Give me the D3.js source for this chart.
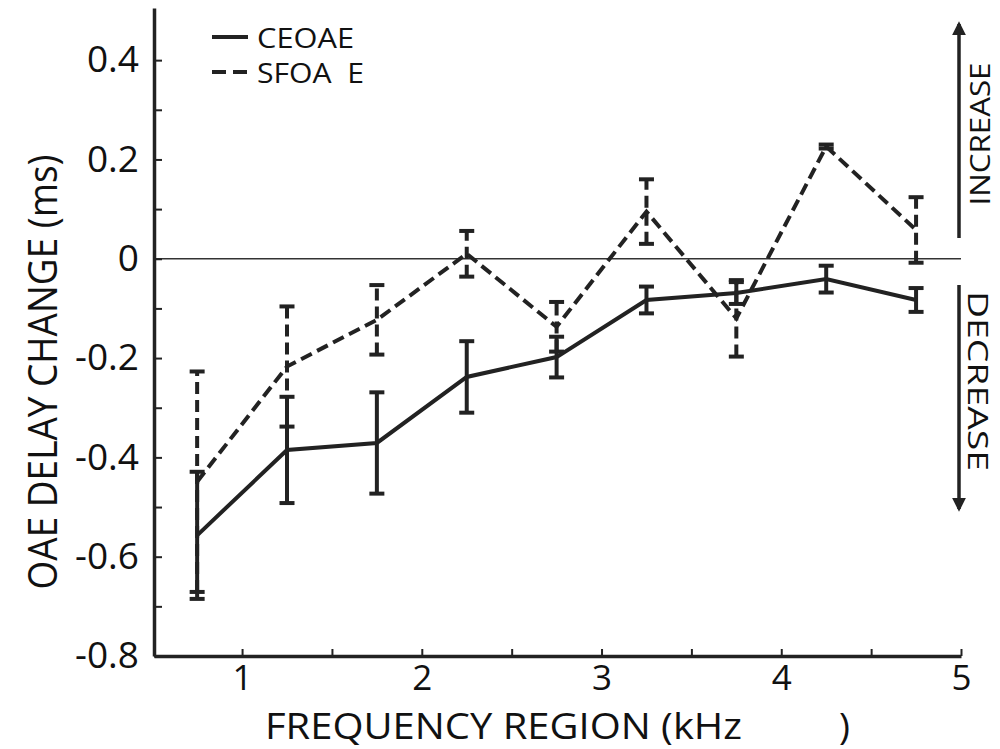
<!DOCTYPE html>
<html>
<head>
<meta charset="utf-8">
<script src="https://cdn.jsdelivr.net/npm/d3@7/dist/d3.min.js"></script>
<style>
  html, body { margin: 0; padding: 0; background: #fff; }
  svg { display: block; }
  text { font-family: "Open Sans", "Noto Sans", sans-serif; fill: #111; }
</style>
</head>
<body>
<svg id="chart" width="1000" height="749"></svg>
<script>
// Frequency region centres (kHz)
const freqRegions = [0.75, 1.25, 1.75, 2.25, 2.75, 3.25, 3.75, 4.25, 4.75];
// CEOAE delay change (ms) and error
const ceoaeMean = [-0.557, -0.385, -0.371, -0.238, -0.198, -0.083, -0.069, -0.041, -0.083];
const ceoaeErr  = [0.128, 0.107, 0.102, 0.072, 0.041, 0.027, 0.022, 0.027, 0.024];
// SFOAE delay change (ms) and error
const sfoaeMean = [-0.449, -0.217, -0.123, 0.010, -0.137, 0.095, -0.120, 0.226, 0.058];
const sfoaeErr  = [0.222, 0.121, 0.070, 0.046, 0.050, 0.065, 0.077, 0.004, 0.066];
// Axis ticks
const xTicks = [1, 1.5, 2, 2.5, 3, 3.5, 4, 4.5, 5];
const xTickLabels = ["1", "", "2", "", "3", "", "4", "", "5"];
const yTicks = [-0.8, -0.7, -0.6, -0.5, -0.4, -0.3, -0.2, -0.1, 0, 0.1, 0.2, 0.3, 0.4];
const yTickLabels = ["-0.8", "", "-0.6", "", "-0.4", "", "-0.2", "", "0", "", "0.2", "", "0.4"];
const seriesNames = ["CEOAE", "SFOA  E"];

const ink = "#222";
const svg = d3.select("#chart");

const x = d3.scaleLinear().domain([0.51, 5]).range([154, 961]);
const y = d3.scaleLinear().domain([-0.8, 0.505]).range([656, 8]);

// zero reference line
svg.append("line")
  .attr("x1", x(0.51)).attr("x2", x(5))
  .attr("y1", y(0)).attr("y2", y(0))
  .attr("stroke", "#333").attr("stroke-width", 1.5);

// y axis (ticks pointing inward)
const yAxis = d3.axisLeft(y)
  .tickValues(yTicks)
  .tickSize(-8).tickSizeOuter(0).tickPadding(15)
  .tickFormat((d, i) => yTickLabels[i]);
const gy = svg.append("g").attr("transform", `translate(${x(0.51)},0)`).call(yAxis);
gy.select(".domain").attr("stroke", ink).attr("stroke-width", 3.5);
gy.selectAll(".tick line").attr("stroke", ink).attr("stroke-width", 2);
gy.selectAll(".tick text").attr("font-size", 37).attr("fill", "#111")
  .style("font-family", '"Open Sans", sans-serif');

// x axis (ticks pointing up)
const xAxis = d3.axisBottom(x)
  .tickValues(xTicks)
  .tickSize(-7).tickSizeOuter(0).tickPadding(9)
  .tickFormat((d, i) => xTickLabels[i]);
const gx = svg.append("g").attr("transform", `translate(0,${y(-0.8)})`).call(xAxis);
gx.select(".domain").attr("stroke", ink).attr("stroke-width", 3.5);
gx.selectAll(".tick line").attr("stroke", ink).attr("stroke-width", 2);
gx.selectAll(".tick text").attr("font-size", 35).attr("fill", "#111")
  .style("font-family", '"Open Sans", sans-serif');

// axis titles
svg.append("text")
  .attr("transform", `translate(57,${372}) rotate(-90)`)
  .attr("text-anchor", "middle")
  .attr("font-size", 40)
  .attr("textLength", 435).attr("lengthAdjust", "spacingAndGlyphs")
  .text("OAE DELAY CHANGE (ms)");

svg.append("text")
  .attr("x", 265).attr("y", 739)
  .attr("font-size", 37)
  .attr("textLength", 477).attr("lengthAdjust", "spacingAndGlyphs")
  .text("FREQUENCY REGION (kHz");
svg.append("text")
  .attr("x", 839).attr("y", 739)
  .attr("font-size", 37)
  .text(")");

// draws one series: error bars, then the connecting line
function drawSeries(means, errs, dash) {
  const pts = freqRegions.map((f, i) => ({ f, m: means[i], e: errs[i] }));
  const g = svg.append("g");
  const bars = g.selectAll("g.err").data(pts).enter().append("g");
  bars.append("line")
    .attr("x1", d => x(d.f)).attr("x2", d => x(d.f))
    .attr("y1", d => y(d.m - d.e)).attr("y2", d => y(d.m + d.e))
    .attr("stroke", ink).attr("stroke-width", 4)
    .attr("stroke-dasharray", dash);
  [1, -1].forEach(s => {
    bars.append("line")
      .attr("x1", d => x(d.f) - 7.5).attr("x2", d => x(d.f) + 7.5)
      .attr("y1", d => y(d.m + s * d.e)).attr("y2", d => y(d.m + s * d.e))
      .attr("stroke", ink).attr("stroke-width", 4);
  });
  const line = d3.line().x(d => x(d.f)).y(d => y(d.m));
  g.append("path").datum(pts)
    .attr("d", line)
    .attr("fill", "none")
    .attr("stroke", ink).attr("stroke-width", 4)
    .attr("stroke-linejoin", "miter")
    .attr("stroke-dasharray", dash);
}
drawSeries(sfoaeMean, sfoaeErr, "12,6");
drawSeries(ceoaeMean, ceoaeErr, null);

// legend
const legend = svg.append("g");
[{ dash: null, yy: 37, len: 97 }, { dash: "14,7", yy: 72, len: 107 }].forEach((d, i) => {
  legend.append("line")
    .attr("x1", 212).attr("x2", 248)
    .attr("y1", d.yy).attr("y2", d.yy)
    .attr("stroke", ink).attr("stroke-width", 4)
    .attr("stroke-dasharray", d.dash);
  legend.append("text")
    .attr("x", 257).attr("y", d.yy + 11)
    .attr("font-size", 27)
    .attr("textLength", d.len).attr("lengthAdjust", "spacingAndGlyphs")
    .style("white-space", "pre")
    .attr("xml:space", "preserve")
    .text(seriesNames[i]);
});

// direction indicators on the right
const arrowX = 959;
const defs = svg.append("defs");
defs.append("marker")
  .attr("id", "arrowhead")
  .attr("viewBox", "0 0 10 10")
  .attr("refX", 8).attr("refY", 5)
  .attr("markerWidth", 4).attr("markerHeight", 5)
  .attr("markerUnits", "strokeWidth")
  .attr("orient", "auto")
  .append("path").attr("d", "M0,0 L10,5 L0,10 Z").attr("fill", ink);

svg.append("line")
  .attr("x1", arrowX).attr("x2", arrowX)
  .attr("y1", 238).attr("y2", 24)
  .attr("stroke", ink).attr("stroke-width", 3.5)
  .attr("marker-end", "url(#arrowhead)");
svg.append("line")
  .attr("x1", arrowX).attr("x2", arrowX)
  .attr("y1", 285).attr("y2", 509)
  .attr("stroke", ink).attr("stroke-width", 3.5)
  .attr("marker-end", "url(#arrowhead)");

svg.append("text")
  .attr("transform", "translate(990,134) rotate(-90)")
  .attr("text-anchor", "middle")
  .attr("font-size", 28)
  .attr("textLength", 143).attr("lengthAdjust", "spacingAndGlyphs")
  .text("INCREASE");
svg.append("text")
  .attr("transform", "translate(968,381) rotate(90)")
  .attr("text-anchor", "middle")
  .attr("font-size", 28)
  .attr("textLength", 180).attr("lengthAdjust", "spacingAndGlyphs")
  .text("DECREASE");
</script>
</body>
</html>
